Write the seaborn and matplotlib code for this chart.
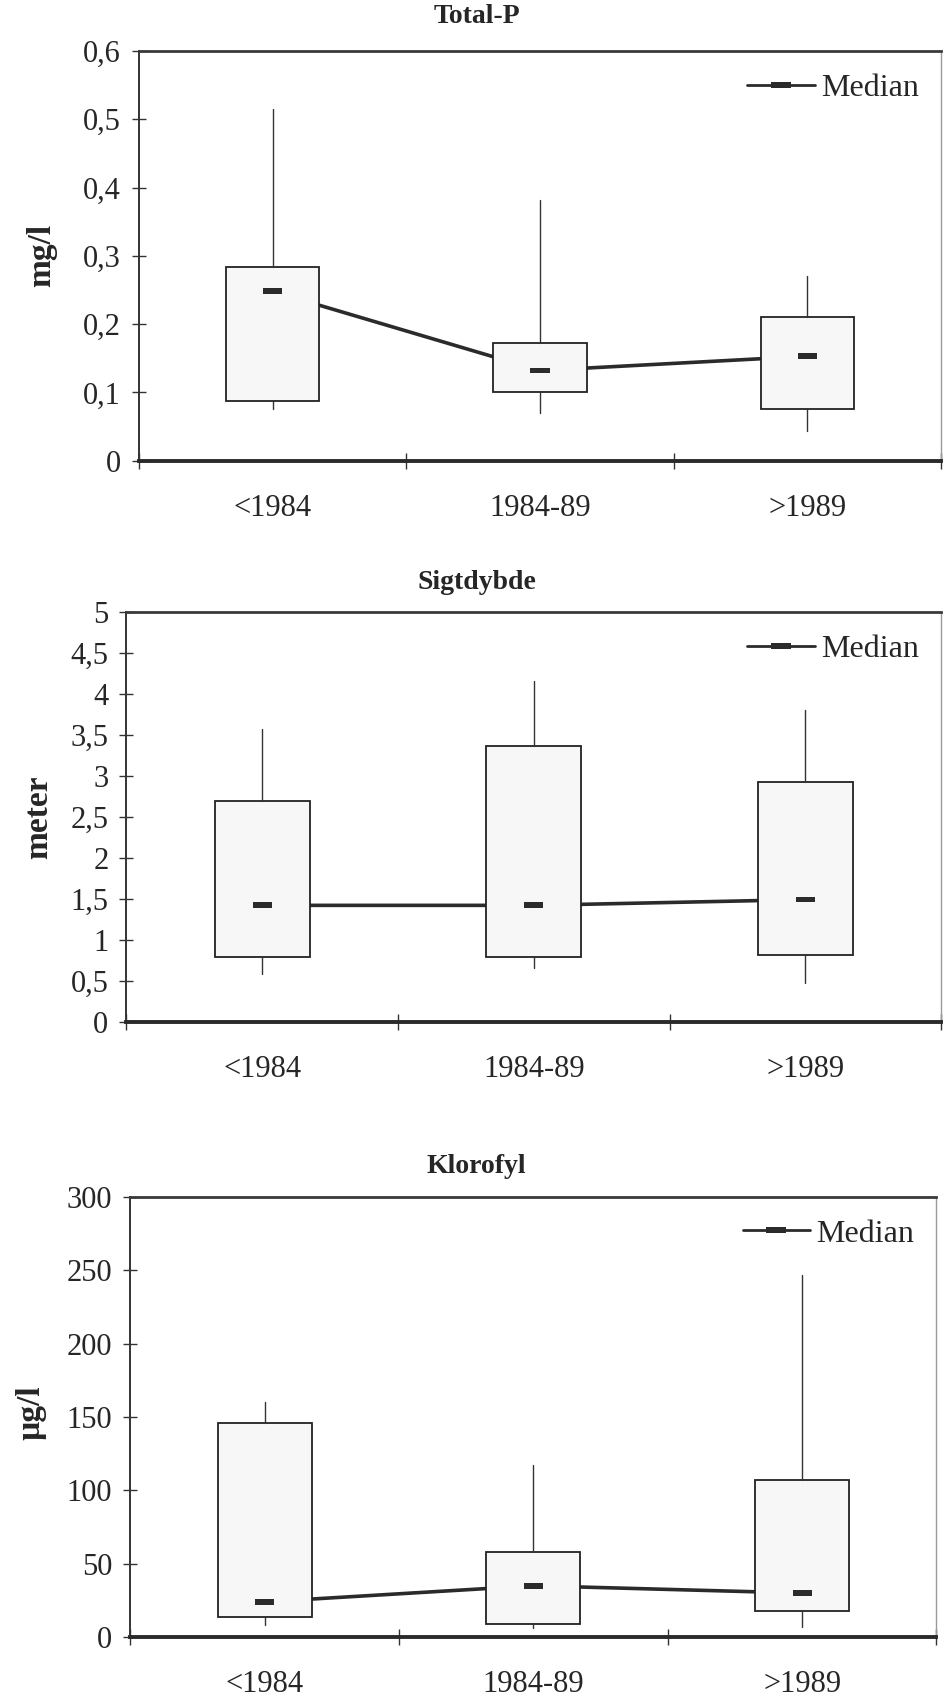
import matplotlib
matplotlib.use("Agg")
import matplotlib.pyplot as plt
import matplotlib.transforms as mtransforms
from matplotlib.lines import Line2D
from matplotlib.ticker import FuncFormatter
import numpy as np
import pandas as pd
import seaborn as sns

sns.set_theme(style="white")
plt.rcParams["font.family"] = ["Liberation Serif", "DejaVu Serif"]

periods = ["<1984", "1984-89", ">1989"]

# Total-P (mg/l)
totp_low = [0.075, 0.070, 0.044]
totp_q1 = [0.087, 0.101, 0.076]
totp_med = [0.248, 0.132, 0.153]
totp_q3 = [0.284, 0.172, 0.210]
totp_high = [0.515, 0.382, 0.270]

# Sigtdybde (meter)
sigt_low = [0.58, 0.65, 0.47]
sigt_q1 = [0.79, 0.79, 0.82]
sigt_med = [1.42, 1.42, 1.49]
sigt_q3 = [2.69, 3.36, 2.93]
sigt_high = [3.57, 4.16, 3.80]

# Klorofyl (µg/l)
klor_low = [8, 6, 7]
klor_q1 = [14, 9, 18]
klor_med = [24, 35, 30]
klor_q3 = [146, 58, 107]
klor_high = [160, 117, 247]

panels = [
    dict(title="Total-P", ylabel="mg/l", ymax=0.6, step=0.1,
         low=totp_low, q1=totp_q1, med=totp_med, q3=totp_q3, high=totp_high,
         rect=[0.147, 0.729, 0.850, 0.241], title_y=0.9905,
         ylab_x=0.060, ylab_y=0.50),
    dict(title="Sigtdybde", ylabel="meter", ymax=5, step=0.5,
         low=sigt_low, q1=sigt_q1, med=sigt_med, q3=sigt_q3, high=sigt_high,
         rect=[0.134, 0.399, 0.863, 0.241], title_y=0.6575,
         ylab_x=0.057, ylab_y=0.50),
    dict(title="Klorofyl", ylabel="µg/l", ymax=300, step=50,
         low=klor_low, q1=klor_q1, med=klor_med, q3=klor_q3, high=klor_high,
         rect=[0.138, 0.037, 0.854, 0.259], title_y=0.314,
         ylab_x=0.049, ylab_y=0.51),
]

median_marker = [(-1.0, -0.3), (1.0, -0.3), (1.0, 0.3), (-1.0, 0.3), (-1.0, -0.3)]
legend_marker = [(-1.0, -0.32), (1.0, -0.32), (1.0, 0.32), (-1.0, 0.32), (-1.0, -0.32)]


def comma_fmt(v, pos):
    if abs(v) < 1e-9:
        return "0"
    if abs(v - round(v)) < 1e-9:
        return f"{int(round(v))}"
    return f"{v:g}".replace(".", ",")


fig = plt.figure(figsize=(9.44, 17.0), dpi=100)
fig.patch.set_facecolor("white")

for p in panels:
    ax = fig.add_axes(p["rect"])
    x = np.arange(len(periods))

    # median trend line, drawn behind the boxes
    df = pd.DataFrame({"x": x, "median": p["med"]})
    sns.lineplot(data=df, x="x", y="median", ax=ax, color="#2b2b2b",
                 linewidth=2.6, zorder=1, legend=False)

    stats = [dict(med=m, q1=a, q3=b, whislo=lo, whishi=hi, fliers=[])
             for m, a, b, lo, hi in zip(p["med"], p["q1"], p["q3"], p["low"], p["high"])]
    ax.bxp(stats, positions=x, widths=0.35, patch_artist=True, showcaps=False,
           showfliers=False, manage_ticks=False,
           boxprops=dict(facecolor="#f7f7f7", edgecolor="#222222", linewidth=1.3),
           whiskerprops=dict(color="#333333", linewidth=1.0),
           medianprops=dict(linewidth=0), zorder=2)

    sns.scatterplot(data=df, x="x", y="median", ax=ax, marker=median_marker,
                    s=190, color="#2b2b2b", edgecolor="none", zorder=4,
                    legend=False)

    ax.set_xlim(-0.5, 2.5)
    ax.set_ylim(0, p["ymax"])
    ax.set_yticks(np.arange(0, p["ymax"] + p["step"] / 2, p["step"]))
    ax.yaxis.set_major_formatter(FuncFormatter(comma_fmt))
    ax.set_xticks([-0.5, 0.5, 1.5, 2.5])
    ax.set_xticklabels([])
    ax.set_xticks(x, minor=True)
    ax.set_xticklabels(periods, minor=True)
    ax.tick_params(axis="x", which="major", direction="inout", length=12,
                   width=1.0, color="#333333", bottom=True)
    ax.tick_params(axis="x", which="minor", length=0, pad=24, labelsize=22)
    ax.tick_params(axis="y", direction="inout", length=10, width=1.0,
                   color="#333333", left=True, labelsize=22, pad=8)
    ax.set_xlabel("")
    ax.set_ylabel(p["ylabel"], fontsize=24, fontweight="bold")
    ax.yaxis.set_label_coords(p["ylab_x"], p["ylab_y"],
                              transform=mtransforms.blended_transform_factory(
                                  fig.transFigure, ax.transAxes))
    fig.text(0.505, p["title_y"], p["title"], fontsize=20, fontweight="bold",
             ha="center", va="center")

    for side, lw, col in [("bottom", 2.8, "#2a2a2a"), ("top", 2.0, "#3a3a3a"),
                          ("left", 1.4, "#333333"), ("right", 1.0, "#999999")]:
        ax.spines[side].set_visible(True)
        ax.spines[side].set_linewidth(lw)
        ax.spines[side].set_color(col)

    handle = Line2D([0], [0], color="#2b2b2b", linewidth=2.0,
                    marker=legend_marker, markersize=15, markeredgewidth=0)
    ax.legend([handle], ["Median"], loc="upper right", frameon=False,
              fontsize=23, handlelength=2.1, handletextpad=0.2,
              borderaxespad=0.3)

fig.savefig("out.png", dpi=100, facecolor="white")
